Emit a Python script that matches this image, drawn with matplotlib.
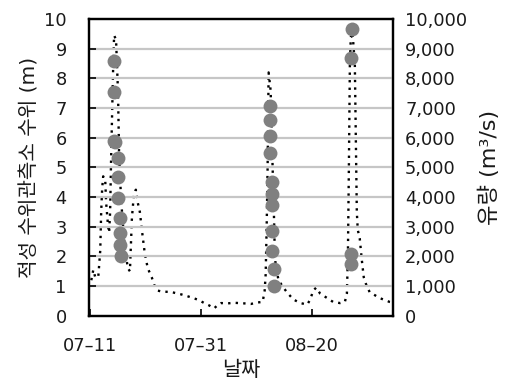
import numpy as np
import pandas as pd
import matplotlib
matplotlib.use("Agg")
import matplotlib.pyplot as plt
import matplotlib.dates as mdates
from matplotlib.ticker import FuncFormatter, MultipleLocator

FONT = ["DejaVu Sans", "Noto Sans CJK KR"]
plt.rcParams["font.family"] = FONT

START = pd.Timestamp("2020-07-11")

# flow (x1000 m3/s), days after 07-11
flow_day = [0.18, 0.54, 0.89, 1.43, 1.79, 1.96, 2.14, 2.32, 2.68, 2.86, 3.21, 3.39,
            3.57, 3.75, 3.93, 4.11, 4.29, 4.64, 5.0, 5.18, 5.36, 5.71, 6.25, 6.79,
            7.14, 7.5, 7.86, 8.21, 8.57, 8.93, 9.29, 9.82, 10.36, 11.07, 11.61,
            12.14, 12.86, 14.64, 16.43, 17.86, 19.46, 20.54, 21.43, 22.32, 23.04,
            23.57, 24.82, 25.89, 27.68, 28.93, 30.18, 31.07, 31.43, 31.61, 31.79,
            31.96, 32.14, 32.5, 32.68, 32.86, 33.04, 33.21, 33.39, 33.93, 34.82,
            35.54, 36.61, 37.86, 39.11, 39.64, 40.18, 40.71, 41.43, 42.68, 43.75,
            45.0, 45.89, 46.25, 46.43, 46.61, 46.79, 46.96, 47.32, 47.68, 47.86,
            48.04, 48.21, 48.57, 48.93, 49.29, 49.82, 50.36, 52.14, 53.93, 54.46]
flow_val = [1.2, 1.55, 1.3, 1.3, 2.2, 3.5, 4.3, 4.7, 4.6, 3.8, 3.0, 2.8,
            3.5, 5.3, 6.8, 8.3, 9.45, 9.3, 7.5, 5.5, 4.6, 3.5, 2.2, 1.6,
            1.5, 3.3, 4.1, 4.25, 3.8, 3.5, 2.9, 2.1, 1.6, 1.3, 1.0,
            0.85, 0.82, 0.8, 0.72, 0.64, 0.54, 0.43, 0.35, 0.25, 0.38,
            0.43, 0.42, 0.44, 0.42, 0.4, 0.45, 0.47, 0.85, 1.4, 3.0,
            5.0, 8.2, 7.6, 6.5, 5.0, 3.9, 2.5, 1.7, 1.2, 0.95,
            0.77, 0.55, 0.43, 0.38, 0.55, 0.85, 0.95, 0.75, 0.6, 0.47,
            0.43, 0.47, 0.75, 2.0, 5.0, 8.5, 9.4, 9.4, 8.5, 6.0,
            3.5, 2.9, 2.6, 1.9, 1.3, 1.0, 0.8, 0.6, 0.47, 0.45]

# water level (m), days after 07-11
level_day = [4.23, 4.23, 4.35, 4.5, 4.95, 4.95, 5.0, 5.3, 5.3, 5.3, 5.59,
             32.32, 32.32, 32.32, 32.32, 32.68, 32.68, 32.68, 32.68, 32.68, 33.09, 33.09,
             47.2, 46.91, 46.91, 46.91]
level_val = [8.59, 7.53, 5.9, 5.85, 5.31, 4.69, 3.96, 3.29, 2.8, 2.37, 2.02,
             7.07, 6.6, 6.06, 5.5, 4.52, 4.1, 3.74, 2.87, 2.2, 1.58, 1.02,
             9.66, 8.68, 2.09, 1.75]

xtick_dates = ["2020-07-11", "2020-07-31", "2020-08-20"]

flow_t = START + pd.to_timedelta(flow_day, unit="D")
level_t = START + pd.to_timedelta(level_day, unit="D")

fig = plt.figure(figsize=(5.14, 3.88), dpi=100)
fig.subplots_adjust(left=0.173, right=0.765, top=0.951, bottom=0.186)
ax = fig.add_subplot(111)
ax2 = ax.twinx()

ax.set_ylim(0, 10)
ax2.set_ylim(0, 10000)
ax.set_xlim(START - pd.Timedelta(hours=6), START + pd.Timedelta(days=54.6))

for y in range(1, 10):
    ax.axhline(y, color="#c6c6c6", lw=1.6, zorder=0)

ax2.plot(flow_t, np.array(flow_val) * 1000, color="black", lw=1.7,
         linestyle=(0, (1.0, 2.2)), zorder=2)
ax.plot(level_t, level_val, "o", color="#808080", ms=10, mec="none", zorder=3)
ax.set_zorder(ax2.get_zorder() + 1)
ax.patch.set_visible(False)

ax.set_xticks(pd.to_datetime(xtick_dates))
ax.xaxis.set_major_formatter(mdates.DateFormatter("%m\u2013%d"))
ax.yaxis.set_major_locator(MultipleLocator(1))
ax2.yaxis.set_major_locator(MultipleLocator(1000))
ax2.yaxis.set_major_formatter(FuncFormatter(lambda v, p: f"{int(v):,}"))

TXT = "#1a1a1a"
ax.tick_params(axis="y", direction="in", length=5, width=1.2, pad=16,
               labelsize=12.8, labelcolor=TXT)
ax.tick_params(axis="x", direction="in", length=5, width=1.2, pad=15,
               labelsize=12.8, labelcolor=TXT)
ax2.tick_params(axis="y", direction="in", length=5, width=1.2, pad=8.5,
                labelsize=12.8, labelcolor=TXT)

for a in (ax, ax2):
    for s in a.spines.values():
        s.set_linewidth(1.6)

ax.set_ylabel("적성 수위관측소 수위 (m)", fontsize=14.5, labelpad=3, color=TXT)
ax2.set_ylabel("유량 (m³/s)", fontsize=16, labelpad=8, color=TXT)
ax.set_xlabel("날짜", fontsize=15, labelpad=4, color=TXT)

fig.savefig("out.png", dpi=100)
